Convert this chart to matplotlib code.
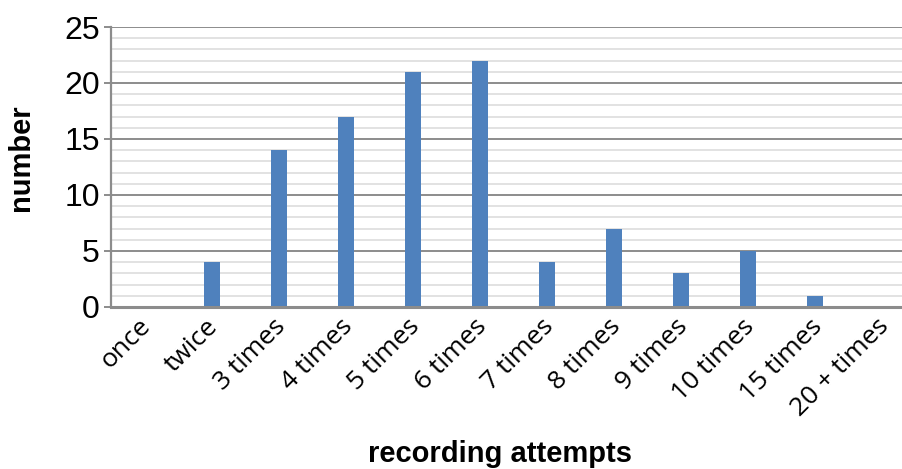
import numpy as np
import matplotlib.pyplot as plt
import matplotlib.transforms as mtransforms
from matplotlib.ticker import MultipleLocator

# dane: liczba prób nagrania
categories = ['once', 'twice', '3 times', '4 times', '5 times', '6 times',
              '7 times', '8 times', '9 times', '10 times', '15 times', '20 + times']
counts = [0, 4, 14, 17, 21, 22, 4, 7, 3, 5, 1, 0]

fig = plt.figure(figsize=(9.03, 4.69), dpi=100)
# the plot area runs slightly past the right edge of the image, like in the source
ax = fig.add_axes([111 / 903, 1 - 307 / 469, 805 / 903, 280 / 469])

x = np.arange(len(categories))
ax.bar(x, counts, width=0.24, color='#4f81bd', zorder=3)

ax.set_xlim(-0.5, len(categories) - 0.5)
ax.set_ylim(0, 25)
ax.yaxis.set_major_locator(MultipleLocator(5))
ax.yaxis.set_minor_locator(MultipleLocator(1))

ax.grid(True, which='major', axis='y', color='#8c8c8c', linewidth=1.4, zorder=1)
ax.grid(True, which='minor', axis='y', color='#e2e2e2', linewidth=1.4, zorder=0)

for side in ['top', 'right']:
    ax.spines[side].set_visible(False)
ax.spines['left'].set_color('#8c8c8c')
ax.spines['left'].set_linewidth(1.6)
ax.spines['bottom'].set_color('#8c8c8c')
ax.spines['bottom'].set_linewidth(2.2)
ax.spines['bottom'].set_zorder(4)

ax.tick_params(axis='y', which='major', length=5, width=1.4, color='#8c8c8c',
               labelsize=23, pad=3)
ax.tick_params(axis='y', which='minor', length=0)
ax.tick_params(axis='x', length=0, pad=5)
for lab in ax.get_yticklabels():
    lab.set_fontfamily('Liberation Sans')

ax.set_xticks(x)
ax.set_xticklabels(categories, rotation=45, ha='right', va='top',
                   rotation_mode='anchor', fontsize=19, fontfamily='Open Sans')
# przesunięcie etykiet trochę w lewo
shift = mtransforms.ScaledTranslation(-6 / 100, 0, fig.dpi_scale_trans)
for lab in ax.get_xticklabels():
    lab.set_transform(lab.get_transform() + shift)

fig.text(21 / 903, 1 - 158 / 469, 'number', ha='center', va='center', rotation=90,
         fontsize=21, fontweight='bold', fontfamily='Liberation Sans')
fig.text(500 / 903, 1 - 454 / 469, 'recording attempts', ha='center', va='center',
         fontsize=21, fontweight='bold', fontfamily='Liberation Sans')

fig.savefig('out.png', dpi=100)
